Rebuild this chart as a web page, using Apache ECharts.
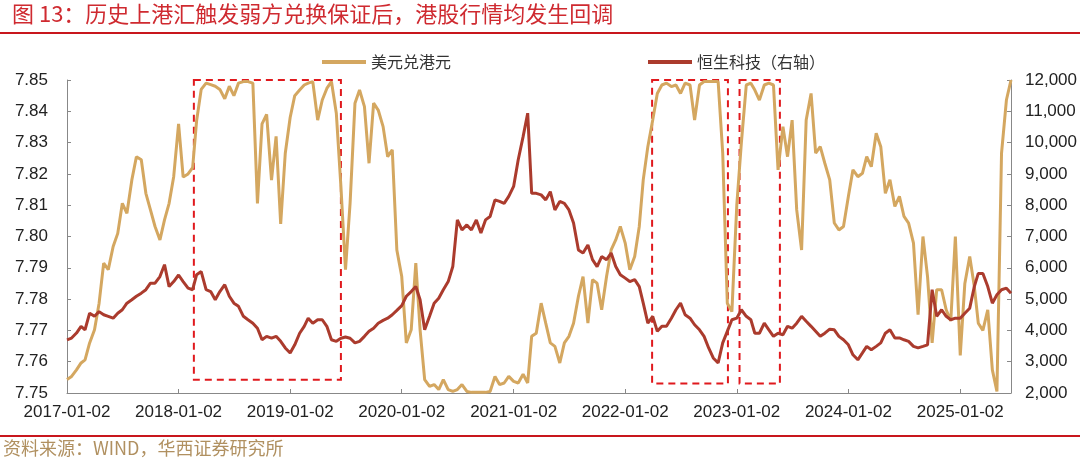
<!DOCTYPE html>
<html>
<head>
<meta charset="utf-8">
<script src="https://cdn.jsdelivr.net/npm/echarts@6/dist/echarts.min.js"></script>
<style>
html,body{margin:0;padding:0;background:#fff;}
#c{width:1080px;height:460px;}
</style>
</head>
<body>
<div id="c"></div>
<script>
// ---- Data (semi-monthly samples: 2nd and 17th of each month, 2017-01-02 .. 2025-06-17) ----
const startYear = 2017, endDate = '2025-06-17';
const dates = [];
for (let y = startYear; y <= 2025; y++) {
  for (let m = 1; m <= 12; m++) {
    for (const d of [2, 17]) {
      const s = y + '-' + String(m).padStart(2, '0') + '-' + String(d).padStart(2, '0');
      if (s <= endDate) dates.push(s);
    }
  }
}

const usdHkd = [
  7.7543,7.7553,7.7574,7.7596,7.7606,7.7660,7.7702,7.7787,7.7915,7.7894,
  7.7968,7.8010,7.8106,7.8074,7.8180,7.8255,7.8245,7.8138,7.8085,7.8032,
  7.7989,7.8053,7.8106,7.8191,7.8360,7.8190,7.8200,7.8220,7.8370,7.8470,
  7.8490,7.8485,7.8480,7.8470,7.8440,7.8480,7.8450,7.8490,7.8495,7.8495,
  7.8490,7.8106,7.8360,7.8390,7.8180,7.8320,7.8040,7.8266,7.8380,7.8450,
  7.8468,7.8484,7.8490,7.8495,7.8372,7.8436,7.8473,7.8495,7.8394,7.8160,
  7.7894,7.8106,7.8426,7.8468,7.8415,7.8234,7.8426,7.8404,7.8351,7.8255,
  7.8277,7.7957,7.7872,7.7660,7.7702,7.7915,7.7702,7.7543,7.7521,7.7527,
  7.7511,7.7543,7.7511,7.7505,7.7511,7.7527,7.7505,7.7502,7.7502,7.7502,
  7.7502,7.7505,7.7553,7.7527,7.7532,7.7553,7.7537,7.7532,7.7560,7.7532,
  7.7681,7.7691,7.7787,7.7723,7.7660,7.7649,7.7596,7.7660,7.7681,7.7723,
  7.7809,7.7872,7.7723,7.7862,7.7851,7.7766,7.7872,7.7957,7.7989,7.8032,
  7.7979,7.7894,7.7936,7.8032,7.8181,7.8287,7.8372,7.8457,7.8484,7.8490,
  7.8479,7.8484,7.8457,7.8490,7.8484,7.8372,7.8484,7.8495,7.8495,7.8495,
  7.8495,7.8266,7.7787,7.7760,7.8100,7.8300,7.8484,7.8490,7.8468,7.8436,
  7.8484,7.8490,7.8484,7.8213,7.8351,7.8255,7.8372,7.8085,7.7957,7.8372,
  7.8457,7.8266,7.8287,7.8234,7.8181,7.8043,7.8021,7.8032,7.8128,7.8213,
  7.8191,7.8202,7.8255,7.8223,7.8330,7.8287,7.8138,7.8181,7.8096,7.8128,
  7.8064,7.8043,7.7979,7.7750,7.8000,7.7872,7.7660,7.7830,7.7830,7.7766,
  7.7730,7.8000,7.7620,7.7850,7.7936,7.7840,7.7723,7.7700,7.7766,7.7574,
  7.7505,7.8266,7.8436,7.8500
];

const hsTech = [
  3700,3755,3915,4130,4020,4550,4450,4600,4500,4450,
  4390,4550,4660,4870,4980,5090,5190,5300,5510,5510,
  5720,6100,5400,5560,5770,5560,5350,5300,5780,5880,
  5300,5240,4980,5240,5460,5090,4870,4770,4450,4340,
  4230,4070,3700,3810,3755,3810,3650,3440,3280,3540,
  3910,4130,4390,4230,4340,4340,4130,3700,3650,3750,
  3790,3750,3600,3650,3810,3970,4070,4230,4320,4390,
  4500,4640,4790,5090,5240,5400,4980,4020,4450,4870,
  5030,5300,5560,6040,7530,7210,7370,7210,7530,7110,
  7530,7640,8170,8120,8060,8280,8600,9450,10190,10940,
  8380,8380,8330,8170,8430,7850,8120,8060,7850,7430,
  6570,6470,6730,6260,6040,6360,6260,6470,6040,5780,
  5670,5560,5620,5400,4870,4230,4450,3970,4130,4130,
  4390,4660,4870,4500,4390,4180,4020,3810,3440,3120,
  2960,3600,3970,4340,4390,4660,4450,4340,3910,3910,
  4230,4020,3810,3910,3860,4130,4070,4230,4450,4290,
  4130,3970,3810,3910,4040,4020,3810,3700,3540,3220,
  3060,3280,3490,3380,3490,3600,3910,4020,3760,3760,
  3700,3650,3490,3440,3490,3540,5300,4450,4660,4450,
  4340,4390,4390,4550,4710,5400,5820,5820,5400,4870,
  5140,5300,5350,5190
];

const xTickDates = ['2017-01-02','2018-01-02','2019-01-02','2020-01-02','2021-01-02',
                    '2022-01-02','2023-01-02','2024-01-02','2025-01-02'];

// dashed boxes: [startDate, endDate, topValue, bottomValue] on the left axis
const boxStart = ['2018-02-21','2022-03-31','2023-01-11'];
const boxEnd   = ['2019-06-17','2022-12-04','2023-05-23'];
const boxTop   = [7.8526, 7.8511, 7.8513];
const boxBottom= [7.7542, 7.7530, 7.7530];

const seriesNames = ['美元兑港元','恒生科技（右轴）'];
const titleText = '图 13：历史上港汇触发弱方兑换保证后，港股行情均发生回调';
const sourceText = '资料来源：WIND，华西证券研究所';

// ---- Chart ----
function toTs(s){ const p = s.split('-').map(Number); return Date.UTC(p[0], p[1]-1, p[2]); }
function fmtDate(v){
  const d = new Date(v);
  return d.getUTCFullYear() + '-' + String(d.getUTCMonth()+1).padStart(2,'0') + '-' + String(d.getUTCDate()).padStart(2,'0');
}

const tanData = dates.map((d,i)=>[toTs(d), usdHkd[i]]);
const redData = dates.map((d,i)=>[toTs(d), hsTech[i]]);
const boxes = boxStart.map((s,i)=>[
  {xAxis: toTs(s), yAxis: boxTop[i]},
  {xAxis: toTs(boxEnd[i]), yAxis: boxBottom[i]}
]);
const tickTs = xTickDates.map(toTs);

const chart = echarts.init(document.getElementById('c'), null, {renderer:'canvas'});
const axisFont = 'Arial, "Liberation Sans", sans-serif';
const cjkFont = '"Noto Sans CJK SC", "Noto Sans", sans-serif';

chart.setOption({
  animation: false,
  backgroundColor: '#ffffff',
  graphic: [
    { type:'text', left: 12, top: 3, style:{ text: titleText, fill:'#cf2a30', font: '22px ' + cjkFont } },
    { type:'line', shape:{x1:0, y1:33, x2:1080, y2:33}, style:{ stroke:'#c8161d', lineWidth:2 } },
    { type:'line', shape:{x1:0, y1:436, x2:1080, y2:436}, style:{ stroke:'#c8161d', lineWidth:2 } },
    { type:'text', left: 3, top: 439, style:{ text: sourceText, fill:'#b09060', font: '18px ' + cjkFont } }
  ],
  legend: {
    data: seriesNames,
    left: 317, top: 49,
    itemWidth: 44, itemHeight: 4, itemGap: 197,
    icon: 'rect',
    textStyle: { fontSize: 16, color:'#333', fontFamily: cjkFont }
  },
  grid: { left: 67, right: 69, top: 80, bottom: 67, containLabel: false },
  xAxis: {
    type: 'value',
    min: toTs(dates[0]), max: toTs(dates[dates.length-1]),
    splitLine: { show:false },
    axisLine: { lineStyle: { color:'#888', width:1 } },
    axisTick: { show:true, inside:true, length:4, lineStyle:{color:'#888'}, customValues: tickTs },
    axisLabel: {
      customValues: tickTs,
      formatter: v => fmtDate(v),
      fontSize: 17, color:'#222', fontFamily: axisFont, margin: 11,
      hideOverlap: false
    }
  },
  yAxis: [
    {
      type:'value', min:7.75, max:7.85, interval:0.01, position:'left',
      splitLine:{show:false},
      axisLine:{show:true, lineStyle:{color:'#888'}},
      axisTick:{show:true, inside:true, length:4, lineStyle:{color:'#888'}},
      axisLabel:{ formatter: v => v.toFixed(2), fontSize:17, color:'#222', fontFamily: axisFont, margin: 19 }
    },
    {
      type:'value', min:2000, max:12000, interval:1000, position:'right',
      splitLine:{show:false},
      axisLine:{show:true, lineStyle:{color:'#888'}},
      axisTick:{show:true, inside:true, length:4, lineStyle:{color:'#888'}},
      axisLabel:{ formatter: v => v.toLocaleString('en-US'), fontSize:17, color:'#222', fontFamily: axisFont, margin: 14 }
    }
  ],
  series: [
    {
      name: seriesNames[0], type:'line', yAxisIndex:0, data: tanData,
      showSymbol:false, symbol:'none', clip:false,
      lineStyle:{ color:'#d4a760', width:3 }, itemStyle:{ color:'#d4a760' },
      z: 2,
      markArea: {
        silent: true,
        itemStyle: { color:'rgba(0,0,0,0)', borderColor:'#e0191d', borderWidth:2, borderType:[7,5] },
        data: boxes
      }
    },
    {
      name: seriesNames[1], type:'line', yAxisIndex:1, data: redData,
      showSymbol:false, symbol:'none',
      lineStyle:{ color:'#ab3b2d', width:3 }, itemStyle:{ color:'#ab3b2d' },
      z: 3
    }
  ]
});
</script>
</body>
</html>
